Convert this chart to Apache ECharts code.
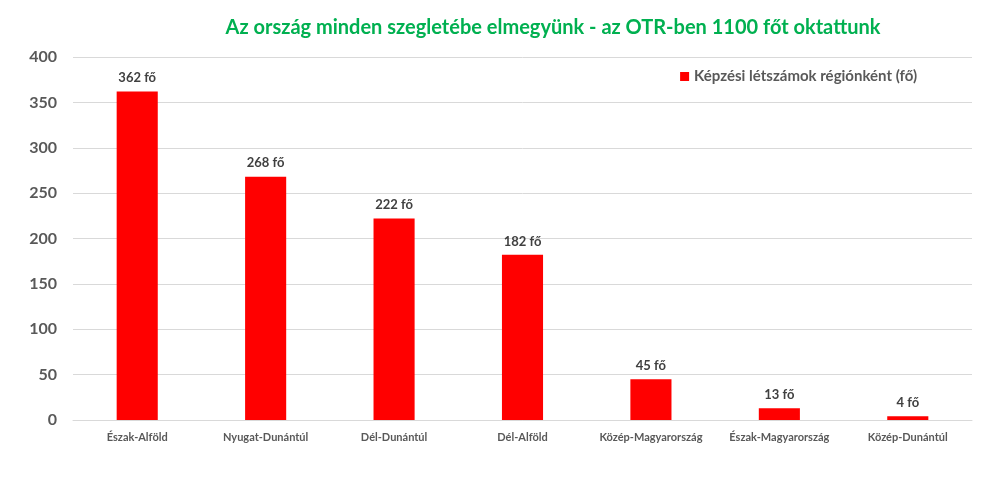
<!DOCTYPE html>
<html><head><meta charset="utf-8">
<script src="https://cdn.jsdelivr.net/npm/echarts@6/dist/echarts.min.js"></script>
<style>html,body{margin:0;padding:0;background:#fff}#c{width:982px;height:482px}</style>
</head><body><div id="c"></div>
<script>
const categories = ['Észak-Alföld','Nyugat-Dunántúl','Dél-Dunántúl','Dél-Alföld','Közép-Magyarország','Észak-Magyarország','Közép-Dunántúl'];
const values = [362, 268, 222, 182, 45, 13, 4];
const seriesName = 'Képzési létszámok régiónként (fő)';
const titleText = 'Az ország minden szegletébe elmegyünk - az OTR-ben 1100 főt oktattunk';
const FONT = 'Lato, "Open Sans", sans-serif';
const chart = echarts.init(document.getElementById('c'));
chart.setOption({
  animation: false,
  title: { text: titleText, left: 548, textAlign: 'center', top: 13,
    textStyle: { color: '#00B050', fontSize: 20, fontWeight: 'bold', fontFamily: FONT } },
  legend: { data: [seriesName], right: 60, top: 64, icon: 'rect', itemWidth: 9, itemHeight: 9, itemGap: 6,
    textStyle: { color: '#595959', fontSize: 15, fontWeight: 'bold', fontFamily: FONT } },
  grid: { left: 73, right: 10, top: 57, bottom: 62, containLabel: false },
  xAxis: { type: 'category', data: categories,
    axisLine: { show: true, lineStyle: { color: '#D9D9D9' } }, axisTick: { show: false },
    axisLabel: { color: '#595959', fontSize: 11, fontWeight: 'bold', fontFamily: FONT, margin: 12, interval: 0 } },
  yAxis: { type: 'value', min: 0, max: 400, interval: 50,
    axisLine: { show: false }, axisTick: { show: false },
    splitLine: { lineStyle: { color: '#D9D9D9' } },
    axisLabel: { color: '#595959', fontSize: 16, fontWeight: 'bold', fontFamily: FONT, margin: 16 } },
  series: [{ name: seriesName, type: 'bar', data: values, barWidth: '32%',
    itemStyle: { color: '#FF0000' },
    label: { show: true, position: 'top', distance: 7, formatter: p => p.value + ' fő',
      color: '#404040', fontSize: 13, fontWeight: 'bold', fontFamily: FONT } }]
});
</script></body></html>
